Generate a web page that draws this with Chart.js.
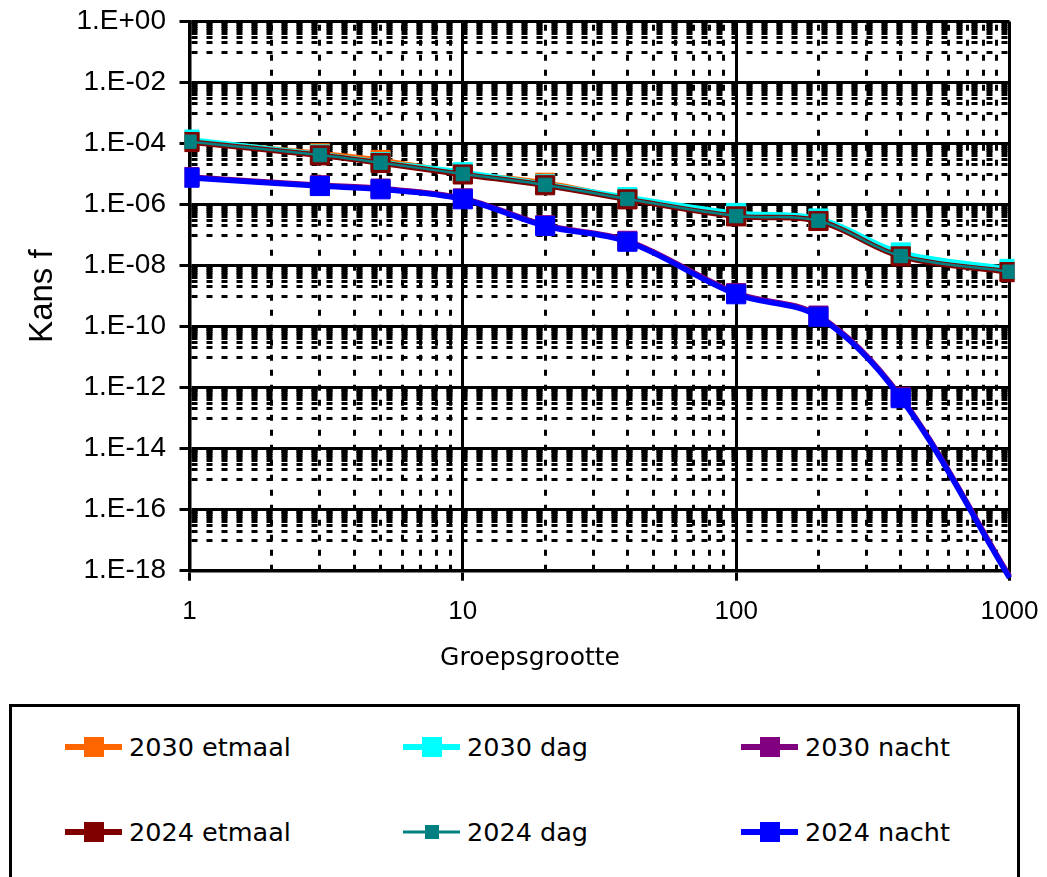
<!DOCTYPE html>
<html><head><meta charset="utf-8">
<script src="https://cdn.jsdelivr.net/npm/chart.js@4.4.1/dist/chart.umd.min.js"></script>
<style>
html,body{margin:0;padding:0;background:#fff;overflow:hidden;}
#wrap{position:relative;width:1047px;height:877px;}
#legend{position:absolute;left:9px;top:704px;width:1011px;height:200px;border:3px solid #000;box-sizing:border-box;display:grid;grid-template-columns:repeat(3,338px);grid-auto-rows:30px;row-gap:55px;padding:25px 0 0 53px;background:#fff;}
.item{display:flex;align-items:center;font-family:'DejaVu Sans';font-size:25.5px;color:#000;white-space:nowrap;}
.icon{position:relative;width:57px;height:30px;margin-right:7px;flex:none;}
.icon .ln{position:absolute;left:0;right:0;top:50%;transform:translateY(-50%);}
.icon .mk{position:absolute;left:50%;top:50%;transform:translate(-50%,-50%);}
</style></head>
<body><div id="wrap"><canvas id="c" width="1047" height="877"></canvas><div id="legend"></div></div>
<script>
// ---- data ----
const groupSizes = [1, 3, 5, 10, 20, 40, 100, 200, 400, 1000];
const seriesNames = ['2030 etmaal', '2030 dag', '2030 nacht', '2024 etmaal', '2024 dag', '2024 nacht'];
const etmaal2030 = [1.22e-4, 4.8e-5, 2.9e-5, 1.05e-5, 5.2e-6, 1.55e-6, 4.4e-7, 3.0e-7, 2.2e-8, 6.5e-9];
const dag2030    = [1.35e-4, 4.4e-5, 2.45e-5, 1.15e-5, 4.6e-6, 1.75e-6, 5.3e-7, 3.5e-7, 2.7e-8, 7.8e-9];
const nacht2030  = [8.0e-6, 4.3e-6, 3.35e-6, 1.6e-6, 2.1e-7, 6.5e-8, 1.25e-9, 2.3e-10, 5.0e-13, 6.5e-19];
const etmaal2024 = [1.12e-4, 4.1e-5, 2.3e-5, 9.7e-6, 4.3e-6, 1.48e-6, 4.1e-7, 2.9e-7, 2.0e-8, 6.1e-9];
const dag2024    = [1.15e-4, 4.2e-5, 2.35e-5, 1.0e-5, 4.4e-6, 1.52e-6, 4.2e-7, 2.96e-7, 2.06e-8, 6.3e-9];
const nacht2024  = [7.6e-6, 4.05e-6, 3.16e-6, 1.49e-6, 1.98e-7, 6.05e-8, 1.15e-9, 2.1e-10, 4.5e-13, 5.8e-19];
const xTickValues = [1, 10, 100, 1000];
const xTickLabels = ['1', '10', '100', '1000'];
const yTickValues = [1, 1e-2, 1e-4, 1e-6, 1e-8, 1e-10, 1e-12, 1e-14, 1e-16, 1e-18];
const yTickLabels = ['1.E+00', '1.E-02', '1.E-04', '1.E-06', '1.E-08', '1.E-10', '1.E-12', '1.E-14', '1.E-16', '1.E-18'];
const xTitle = 'Groepsgrootte';
const yTitle = 'Kans f';

// ---- styles ----
const seriesValues = [etmaal2030, dag2030, nacht2030, etmaal2024, dag2024, nacht2024];
const seriesStyles = [
  {color: '#FF6600', width: 5, r: 13.5, order: 6, legLine: 6, legBox: 20},
  {color: '#00FFFF', width: 5, r: 13.5, order: 5, legLine: 6, legBox: 20},
  {color: '#800080', width: 5.5, r: 13.5, order: 4, legLine: 6, legBox: 20},
  {color: '#800000', width: 5.5, r: 13.5, order: 3, legLine: 6, legBox: 20},
  {color: '#008080', width: 2.5, r: 9.5, order: 2, legLine: 3, legBox: 14},
  {color: '#0000FF', width: 5.5, r: 13.5, order: 1, legLine: 6, legBox: 20}
];
const Y_MIN = yTickValues[yTickValues.length - 1], Y_MAX = yTickValues[0];
const X_MIN = xTickValues[0], X_MAX = xTickValues[xTickValues.length - 1];

function xTicks() {
  const t = [];
  xTickValues.forEach((v, i) => {
    t.push({value: v, major: true, lbl: xTickLabels[i]});
    if (i < xTickValues.length - 1) for (let k = 2; k <= 9; k++) t.push({value: v * k, major: false});
  });
  return t;
}
function yTicks() {
  const t = [];
  for (let i = yTickValues.length - 1; i >= 0; i--) {
    t.push({value: yTickValues[i], major: true, lbl: yTickLabels[i]});
    if (i > 0) {
      const base = yTickValues[i] * 10;
      for (let k = 1; k <= 9; k++) t.push({value: base * k, major: false});
    }
  }
  return t;
}

function gridOpts(minorWidth) {
  return {
    color: '#000',
    lineWidth: c => (c.tick && c.tick.major) ? 3 : minorWidth,
    tickColor: c => (c.tick && c.tick.major) ? '#000' : 'rgba(0,0,0,0)',
    tickWidth: 3,
    tickLength: 10,
    drawTicks: true
  };
}
function borderOpts(offset) {
  return {
    color: '#000', width: 3.5,
    dash: c => (c.tick && !c.tick.major) ? [6, 9] : [],
    dashOffset: offset
  };
}
function zeroPad(sc) { sc.paddingLeft = 0; sc.paddingRight = 0; sc.paddingTop = 0; sc.paddingBottom = 0; }

const datasets = seriesNames.map((name, i) => {
  const s = seriesStyles[i];
  return {
    label: name,
    data: groupSizes.map((x, j) => ({x: x, y: seriesValues[i][j]})),
    borderColor: s.color,
    backgroundColor: s.color,
    borderWidth: s.width,
    pointStyle: 'rect',
    pointRadius: ctx => (ctx.raw && ctx.raw.y < Y_MIN) ? 0 : s.r,
    pointBorderWidth: 1,
    pointBorderColor: s.color,
    pointBackgroundColor: s.color,
    tension: 0.35,
    order: s.order,
    clip: {left: 5, top: 5, right: 5, bottom: 9}
  };
});

new Chart(document.getElementById('c'), {
  type: 'line',
  data: {datasets},
  options: {
    responsive: false,
    animation: false,
    events: [],
    layout: {padding: {left: 50.5, top: 21.5, right: 37.5, bottom: 204}},
    plugins: {
      legend: {display: false},
      tooltip: {enabled: false},
      title: {
        display: true, position: 'bottom', text: xTitle, fullSize: true,
        color: '#000', font: {family: 'DejaVu Sans', size: 25, weight: 'normal'},
        padding: {top: 0, bottom: 0}
      }
    },
    scales: {
      x: {
        type: 'logarithmic', min: X_MIN, max: X_MAX,
        afterBuildTicks: sc => { sc.ticks = xTicks(); },
        afterFit: sc => { sc.height = 72.3; zeroPad(sc); },
        ticks: {
          autoSkip: false, maxRotation: 0, padding: 16, color: '#000',
          font: {family: 'Liberation Sans', size: 26},
          callback: (v, i, t) => t[i].lbl || ''
        },
        grid: gridOpts(3),
        border: borderOpts(11.7)
      },
      y: {
        type: 'logarithmic', min: Y_MIN, max: Y_MAX,
        afterBuildTicks: sc => { sc.ticks = yTicks(); },
        afterFit: sc => { sc.width = 139; zeroPad(sc); },
        ticks: {
          autoSkip: false, padding: 13.5, color: '#000',
          font: {family: 'Liberation Sans', size: 28},
          callback: (v, i, t) => t[i].lbl || ''
        },
        title: {
          display: true, text: yTitle, color: '#000',
          font: {family: 'Liberation Sans', size: 33},
          padding: {top: -27.3, bottom: 0}
        },
        grid: gridOpts(3),
        border: borderOpts(0)
      }
    }
  }
});

// ---- HTML legend built from the series ----
const leg = document.getElementById('legend');
seriesNames.forEach((name, i) => {
  const s = seriesStyles[i];
  const it = document.createElement('div');
  it.className = 'item';
  const ic = document.createElement('div');
  ic.className = 'icon';
  const ln = document.createElement('div');
  ln.className = 'ln';
  ln.style.height = s.legLine + 'px';
  ln.style.background = s.color;
  const mk = document.createElement('div');
  mk.className = 'mk';
  mk.style.width = s.legBox + 'px';
  mk.style.height = s.legBox + 'px';
  mk.style.background = s.color;
  ic.appendChild(ln); ic.appendChild(mk);
  const tx = document.createElement('span');
  tx.textContent = name;
  it.appendChild(ic); it.appendChild(tx);
  leg.appendChild(it);
});
</script>
</body></html>
